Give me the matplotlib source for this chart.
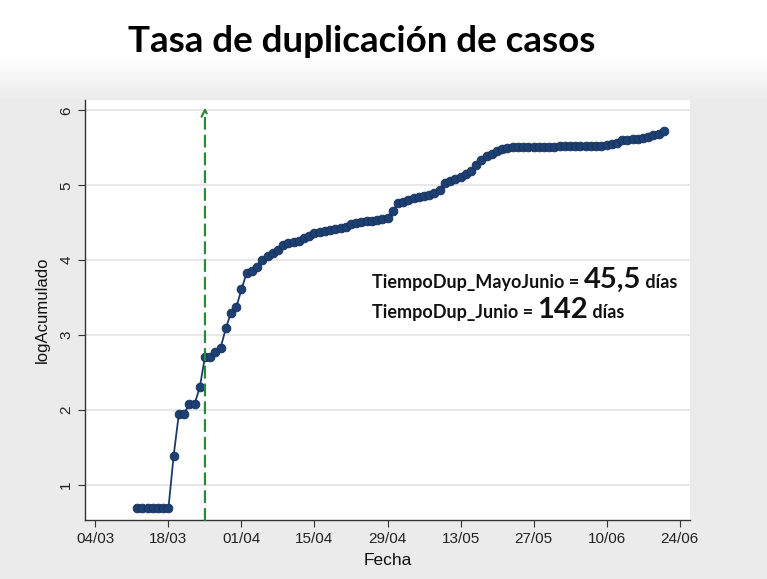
import numpy as np
import pandas as pd
import matplotlib
matplotlib.use("Agg")
from matplotlib import pyplot as plt
import matplotlib.dates as mdates

# log of cumulative cases, one value per day from 12/03/2020 to 21/06/2020
start = "2020-03-12"
log_acum = [0.69, 0.69, 0.69, 0.69, 0.69, 0.69, 0.69,
            1.39, 1.95, 1.95, 2.08, 2.08, 2.30, 2.71, 2.71, 2.77, 2.83,
            3.09, 3.30, 3.37, 3.61, 3.83, 3.85, 3.91, 4.00, 4.06, 4.09,
            4.13, 4.20, 4.23, 4.24, 4.26, 4.30, 4.33, 4.36, 4.38, 4.39,
            4.41, 4.42, 4.43, 4.45, 4.48, 4.50, 4.51, 4.52, 4.53, 4.54,
            4.55, 4.56, 4.66, 4.76, 4.78, 4.81, 4.83, 4.84, 4.86, 4.87,
            4.90, 4.94, 5.03, 5.06, 5.09, 5.11, 5.15, 5.19, 5.27, 5.34,
            5.39, 5.42, 5.46, 5.49, 5.50, 5.51, 5.51, 5.51, 5.51, 5.51,
            5.51, 5.51, 5.51, 5.51, 5.52, 5.52, 5.52, 5.52, 5.52, 5.53,
            5.53, 5.53, 5.53, 5.54, 5.55, 5.57, 5.60, 5.61, 5.62, 5.62,
            5.63, 5.64, 5.67, 5.69, 5.72]
fechas = pd.date_range(start, periods=len(log_acum), freq="D")

marca = pd.Timestamp("2020-03-25")
yticks = [1, 2, 3, 4, 5, 6]

title = "Tasa de duplicación de casos"
lines = [("TiempoDup_MayoJunio = ", "45,5", " días"),
         ("TiempoDup_Junio = ", "142", " días")]

W, H = 767, 579
fig = plt.figure(figsize=(W / 100, H / 100), dpi=100)
fig.patch.set_facecolor("#ebebeb")

# white-to-gray background gradient behind the title
bg = fig.add_axes([0, 0, 1, 1], zorder=-10)
rows = np.arange(H)
g = np.clip((rows - 58) / 42.0, 0, 1)
top, bot = np.array([1.0, 1.0, 1.0]), np.array([0.922, 0.922, 0.922])
img = top + g[:, None, None] * (bot - top)
bg.imshow(img, aspect="auto", extent=[0, 1, 0, 1], origin="upper")
bg.axis("off")

ax = fig.add_axes([85 / W, (H - 520) / H, (690 - 85) / W, (520 - 100) / H])
ax.set_facecolor("white")

ax.plot(fechas, log_acum, color="#1c3a6a", lw=1.3, marker="o", ms=6.3,
        mfc="#1d3f72", mec="#14305a", mew=0.6, zorder=3)

ax.annotate("", xy=(marca, 6.04), xytext=(marca, 0.53),
            arrowprops=dict(arrowstyle="->", color="#2a8a3a", lw=1.6,
                            linestyle=(0, (5, 3)), shrinkA=0, shrinkB=0,
                            mutation_scale=12), zorder=4)

ax.set_xlim(pd.Timestamp("2020-03-02"), pd.Timestamp("2020-06-26"))
ax.set_ylim(0.53, 6.14)
ax.set_yticks(yticks)
ax.yaxis.grid(True, color="#e4e4e4", lw=1.2)
ax.set_axisbelow(True)

ticks = pd.date_range("2020-03-04", "2020-06-24", freq="14D")
ax.set_xticks(ticks)
ax.xaxis.set_major_formatter(mdates.DateFormatter("%d/%m"))

for s in ["top", "right"]:
    ax.spines[s].set_visible(False)
for s in ["left", "bottom"]:
    ax.spines[s].set_color("#333333")
    ax.spines[s].set_linewidth(1.0)
ax.tick_params(length=5, color="#333333", labelsize=11, labelcolor="#222222")
plt.setp(ax.get_yticklabels(), rotation=90, va="center", family="Liberation Sans")
plt.setp(ax.get_xticklabels(), family="Liberation Sans")
ax.set_xlabel("Fecha", fontsize=12.5, family="Liberation Sans", color="#111111", labelpad=5)
ax.set_ylabel("logAcumulado", fontsize=12, family="Liberation Sans", color="#111111", labelpad=7)

fig.text(362 / W, 1 - 42 / H, title, ha="center", va="center",
         fontsize=26.5, fontweight="bold", family="Lato", color="black")

# annotation with mixed sizes, placed piece by piece
fig.canvas.draw()
r = fig.canvas.get_renderer()
for (a, b, c), base in zip(lines, [288, 318]):
    x = 372
    for txt, size in [(a, 13), (b, 21), (c, 13)]:
        t = fig.text(x / W, 1 - base / H, txt, ha="left", va="baseline",
                     fontsize=size, fontweight="bold", family="Lato", color="#111111")
        x += t.get_window_extent(r).width

fig.savefig("out.png", dpi=100, facecolor=fig.get_facecolor())
